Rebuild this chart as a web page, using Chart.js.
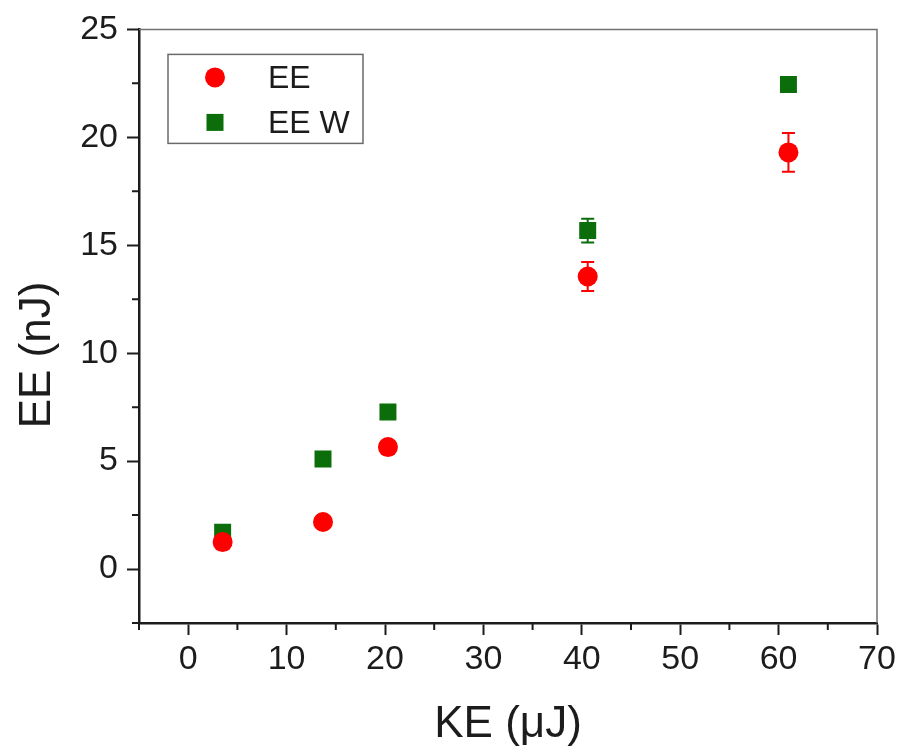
<!DOCTYPE html>
<html>
<head>
<meta charset="utf-8">
<script src="https://cdn.jsdelivr.net/npm/chart.js@4.4.1/dist/chart.umd.min.js"></script>
<style>
  html, body { margin: 0; padding: 0; background: #fff; }
  #wrap { width: 901px; height: 756px; }
</style>
</head>
<body>
<div id="wrap"><canvas id="chart" width="901" height="756"></canvas></div>
<script>
// KE (uJ) on x, EE (nJ) on y
const keValues = [3.5, 13.7, 20.3, 40.6, 61.0];
const eeValues = [1.25, 2.18, 5.65, 13.55, 19.3];
const eeErrors = [0.3, 0.1, 0.1, 0.67, 0.9];
const eeWValues = [1.7, 5.1, 7.27, 15.68, 22.45];
const eeWErrors = [0.1, 0.1, 0.1, 0.55, 0.2];

const xTicks = [0, 10, 20, 30, 40, 50, 60, 70];
const xMinor = [-5, 5, 15, 25, 35, 45, 55, 65];
const yTicks = [0, 5, 10, 15, 20, 25];
const yMinor = [-2.5, 2.5, 7.5, 12.5, 17.5, 22.5];

const seriesLabels = ['EE', 'EE W'];
const xTitle = 'KE (\u03BCJ)';
const yTitle = 'EE (nJ)';

const FONT = '"Liberation Sans", Arial, sans-serif';
const INK = '#1c1c1c';
const RED = '#ff0000';
const GREEN = '#0b6e0b';

function toPoints(xs, ys) {
    return xs.map((v, i) => ({ x: v, y: ys[i] }));
}

// vertical error bars with caps, drawn right after each dataset
const errorBars = {
    id: 'errorBars',
    afterDatasetDraw(chart, args) {
        const ds = chart.data.datasets[args.index];
        if (!ds.errors) return;
        const xs = chart.scales.x, ys = chart.scales.y;
        const ctx = chart.ctx;
        ctx.save();
        ctx.strokeStyle = ds.borderColor;
        ctx.lineWidth = 2;
        ds.data.forEach((p, i) => {
            const px = xs.getPixelForValue(p.x);
            const top = ys.getPixelForValue(p.y + ds.errors[i]);
            const bot = ys.getPixelForValue(p.y - ds.errors[i]);
            ctx.beginPath();
            ctx.moveTo(px, top); ctx.lineTo(px, bot);
            ctx.moveTo(px - 6.5, top); ctx.lineTo(px + 6.5, top);
            ctx.moveTo(px - 6.5, bot); ctx.lineTo(px + 6.5, bot);
            ctx.stroke();
        });
        ctx.restore();
    }
};

// minor ticks, top/right frame, boxed legend and the y title
const decorations = {
    id: 'decorations',
    afterDraw(chart) {
        const ctx = chart.ctx;
        const area = chart.chartArea;
        const xs = chart.scales.x, ys = chart.scales.y;
        ctx.save();

        // top and right frame lines (lighter)
        ctx.strokeStyle = '#707070';
        ctx.lineWidth = 1.5;
        ctx.beginPath();
        ctx.moveTo(area.left, area.top); ctx.lineTo(area.right, area.top);
        ctx.lineTo(area.right, area.bottom);
        ctx.stroke();

        // minor ticks
        ctx.strokeStyle = INK;
        ctx.lineWidth = 2;
        ctx.beginPath();
        xMinor.forEach(v => {
            const px = xs.getPixelForValue(v);
            ctx.moveTo(px, area.bottom); ctx.lineTo(px, area.bottom + 7);
        });
        yMinor.forEach(v => {
            const py = ys.getPixelForValue(v);
            ctx.moveTo(area.left, py); ctx.lineTo(area.left - 7, py);
        });
        ctx.stroke();

        // legend box
        const bx = area.left + 29, by = area.top + 25, bw = 195, bh = 89;
        ctx.fillStyle = '#fff';
        ctx.fillRect(bx, by, bw, bh);
        ctx.strokeStyle = '#6a6a6a';
        ctx.lineWidth = 1.5;
        ctx.strokeRect(bx, by, bw, bh);
        chart.data.datasets.forEach((ds, i) => {
            const cy = by + 23 + i * 45;
            const cx = bx + 47;
            ctx.fillStyle = ds.backgroundColor;
            if (ds.pointStyle === 'rect') {
                ctx.fillRect(cx - 8.5, cy - 8.5, 17, 17);
            } else {
                ctx.beginPath();
                ctx.arc(cx, cy, 10, 0, Math.PI * 2);
                ctx.fill();
            }
            ctx.fillStyle = INK;
            ctx.font = '32px ' + FONT;
            ctx.textAlign = 'left';
            ctx.textBaseline = 'middle';
            ctx.fillText(ds.label, bx + 100, cy + 2);
        });

        // y axis title
        ctx.translate(38, 355);
        ctx.rotate(-Math.PI / 2);
        ctx.fillStyle = INK;
        ctx.font = '44px ' + FONT;
        ctx.textAlign = 'center';
        ctx.textBaseline = 'middle';
        ctx.fillText(yTitle, 0, 0);
        ctx.restore();
    }
};

const ctx = document.getElementById('chart').getContext('2d');
new Chart(ctx, {
    type: 'scatter',
    data: {
        datasets: [
            {
                label: seriesLabels[0],
                data: toPoints(keValues, eeValues),
                errors: eeErrors,
                pointStyle: 'circle',
                pointRadius: 10,
                pointHoverRadius: 10,
                borderWidth: 0,
                backgroundColor: RED,
                borderColor: RED
            },
            {
                label: seriesLabels[1],
                data: toPoints(keValues, eeWValues),
                errors: eeWErrors,
                pointStyle: 'rect',
                pointRadius: 12,
                pointHoverRadius: 12,
                borderWidth: 0,
                backgroundColor: GREEN,
                borderColor: GREEN
            }
        ]
    },
    options: {
        responsive: false,
        animation: false,
        layout: { padding: { top: 26, right: 24, left: 0, bottom: 0 } },
        plugins: {
            legend: { display: false },
            tooltip: { enabled: false }
        },
        scales: {
            x: {
                type: 'linear',
                min: -5,
                max: 70,
                afterBuildTicks: (scale) => { scale.ticks = xTicks.map(v => ({ value: v })); },
                afterFit: (scale) => { scale.height = 133; },
                grid: {
                    drawOnChartArea: false,
                    drawTicks: true,
                    tickLength: 12,
                    tickWidth: 2,
                    tickColor: INK
                },
                border: { display: true, color: INK, width: 2.5 },
                ticks: {
                    color: INK,
                    font: { family: FONT, size: 34 },
                    padding: 4,
                    maxRotation: 0
                },
                title: {
                    display: true,
                    text: xTitle,
                    color: INK,
                    font: { family: FONT, size: 44 },
                    padding: { top: 0, bottom: 5 }
                }
            },
            y: {
                type: 'linear',
                min: -2.5,
                max: 25,
                afterBuildTicks: (scale) => { scale.ticks = yTicks.map(v => ({ value: v })); },
                afterFit: (scale) => { scale.width = 139; },
                grid: {
                    drawOnChartArea: false,
                    drawTicks: true,
                    tickLength: 12,
                    tickWidth: 2,
                    tickColor: INK
                },
                border: { display: true, color: INK, width: 2.5 },
                ticks: {
                    color: INK,
                    font: { family: FONT, size: 34 },
                    padding: 9
                }
            }
        }
    },
    plugins: [errorBars, decorations]
});
</script>
</body>
</html>
